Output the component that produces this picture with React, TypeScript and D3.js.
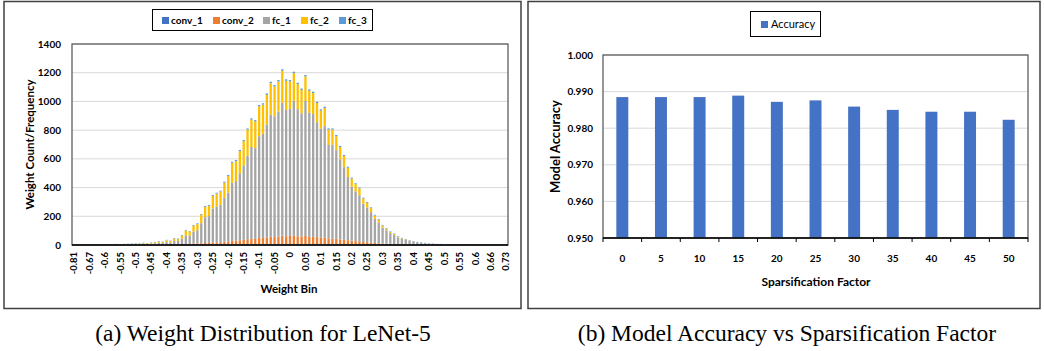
import * as d3 from "d3";

// ---- (a) weight histogram ----
const BIN_LABELS = [
  "-0.81", "-0.78", "-0.74", "-0.70", "-0.67", "-0.65", "-0.63", "-0.61", "-0.6",
  "-0.59", "-0.58", "-0.56", "-0.55", "-0.54", "-0.53", "-0.51", "-0.5",
  "-0.49", "-0.48", "-0.46", "-0.45", "-0.44", "-0.43", "-0.41", "-0.4",
  "-0.39", "-0.38", "-0.36", "-0.35", "-0.34", "-0.33", "-0.31", "-0.3",
  "-0.29", "-0.28", "-0.26", "-0.25", "-0.24", "-0.23", "-0.21", "-0.2",
  "-0.19", "-0.18", "-0.16", "-0.15", "-0.14", "-0.13", "-0.11", "-0.1",
  "-0.09", "-0.08", "-0.06", "-0.05", "-0.04", "-0.03", "-0.01", "0",
  "0.01", "0.03", "0.04", "0.05", "0.06", "0.08", "0.09", "0.1",
  "0.11", "0.13", "0.14", "0.15", "0.16", "0.18", "0.19", "0.2",
  "0.21", "0.23", "0.24", "0.25", "0.26", "0.28", "0.29", "0.3",
  "0.31", "0.33", "0.34", "0.35", "0.36", "0.38", "0.39", "0.4",
  "0.41", "0.43", "0.44", "0.45", "0.46", "0.48", "0.49", "0.5",
  "0.51", "0.53", "0.54", "0.55", "0.56", "0.58", "0.59", "0.6",
  "0.61", "0.63", "0.64", "0.66", "0.68", "0.69", "0.71", "0.73",
];

const CONV_1 = [
  2, 2, 2, 2, 2, 1, 2, 2, 2, 2,
  2, 2, 2, 2, 2, 2, 2, 2, 2, 2,
  2, 2, 2, 2, 2, 2, 2, 2, 2, 2,
  2, 2, 2, 2, 2, 2, 3, 3, 3, 3,
  3, 3, 3, 3, 3, 3, 3, 3, 3, 3,
  3, 3, 3, 3, 3, 3, 3, 3, 3, 3,
  3, 3, 3, 3, 3, 3, 3, 3, 3, 3,
  3, 3, 3, 3, 3, 3, 3, 3, 3, 2,
  2, 2, 2, 2, 2, 2, 2, 2, 2, 2,
  2, 2, 2, 2, 2, 2, 2, 2, 2, 2,
  2, 2, 2, 2, 2, 2, 2, 2, 2, 2,
  2, 2, 2,
];
const CONV_2 = [
  0, 0, 0, 0, 0, 0, 0, 0, 0, 0,
  0, 0, 0, 0, 0, 0, 1, 0, 1, 1,
  1, 1, 2, 1, 2, 2, 3, 3, 4, 5,
  5, 7, 8, 10, 12, 13, 15, 16, 17, 20,
  22, 25, 27, 30, 33, 37, 40, 40, 45, 47,
  50, 55, 52, 56, 62, 58, 60, 62, 58, 55,
  60, 55, 54, 52, 48, 50, 44, 42, 40, 36,
  34, 30, 27, 24, 22, 18, 16, 14, 12, 10,
  8, 7, 6, 5, 4, 3, 3, 2, 2, 1,
  1, 1, 1, 0, 0, 0, 0, 0, 0, 0,
  0, 0, 0, 0, 0, 0, 0, 0, 0, 0,
  0, 0, 0,
];
const FC_1 = [
  0, 0, 1, 0, 1, 1, 1, 1, 1, 2,
  1, 2, 2, 2, 3, 3, 4, 4, 6, 5,
  7, 9, 12, 11, 17, 14, 24, 23, 38, 60,
  58, 84, 93, 140, 180, 186, 236, 248, 260, 305,
  340, 405, 415, 467, 518, 582, 640, 632, 710, 724,
  786, 850, 842, 870, 925, 880, 885, 940, 885, 860,
  940, 865, 855, 800, 760, 775, 650, 655, 618, 558,
  505, 440, 377, 346, 322, 266, 243, 212, 168, 145,
  112, 94, 75, 62, 47, 38, 31, 24, 19, 15,
  11, 9, 6, 5, 3, 3, 1, 1, 0, 1,
  1, 0, 1, 1, 0, 1, 0, 1, 0, 0,
  1, 0, 1,
];
const FC_2 = [
  0, 0, 0, 0, 0, 0, 0, 1, 0, 0,
  0, 1, 0, 1, 1, 2, 2, 2, 4, 3,
  5, 7, 9, 7, 12, 10, 14, 13, 22, 33,
  29, 41, 43, 59, 72, 72, 88, 91, 92, 106,
  116, 140, 140, 154, 169, 182, 190, 186, 208, 204,
  207, 219, 207, 210, 224, 203, 191, 192, 174, 162,
  171, 151, 146, 134, 125, 126, 107, 104, 97, 85,
  78, 65, 56, 51, 47, 37, 32, 28, 22, 18,
  14, 11, 8, 7, 5, 4, 3, 2, 2, 1,
  1, 0, 0, 0, 0, 0, 0, 0, 0, 0,
  0, 0, 0, 0, 0, 0, 0, 0, 0, 0,
  0, 0, 0,
];
const FC_3 = [
  4, 3, 3, 3, 3, 3, 3, 3, 3, 3,
  3, 3, 3, 3, 3, 3, 3, 3, 3, 3,
  3, 3, 3, 3, 3, 3, 4, 4, 4, 4,
  4, 5, 5, 5, 6, 6, 6, 6, 6, 7,
  7, 7, 7, 8, 8, 8, 9, 9, 9, 9,
  10, 10, 10, 10, 10, 10, 10, 10, 10, 10,
  10, 10, 10, 9, 9, 9, 8, 8, 8, 8,
  7, 7, 7, 6, 6, 6, 6, 5, 5, 5,
  4, 4, 4, 4, 4, 3, 3, 3, 3, 3,
  3, 3, 3, 3, 3, 3, 3, 3, 3, 3,
  3, 3, 3, 3, 3, 3, 3, 3, 3, 3,
  3, 3, 3,
];

const HIST_SERIES = ["conv_1", "conv_2", "fc_1", "fc_2", "fc_3"];
const HIST_COLORS = ["#4472c4", "#ed7d31", "#a5a5a5", "#ffc000", "#5b9bd5"];
const HIST_Y_TICKS = [0, 200, 400, 600, 800, 1000, 1200, 1400];

// ---- (b) accuracy vs sparsification ----
const SPARSITY = ["0", "5", "10", "15", "20", "25", "30", "35", "40", "45", "50"];
const ACCURACY = [0.9885, 0.9885, 0.9885, 0.9889, 0.9872, 0.9876, 0.9859, 0.985, 0.9845, 0.9845, 0.9823];
const ACC_Y_TICKS = [0.95, 0.96, 0.97, 0.98, 0.99, 1.0];

const FONT = "Lato, 'Open Sans', sans-serif";
const SERIF = "'Liberation Serif', 'DejaVu Serif', serif";

function HistogramPanel() {
  const left = 72, right = 508, top = 44, bottom = 245;
  const x = d3.scaleBand().domain(BIN_LABELS).range([left, right]).paddingInner(0.4).paddingOuter(0.2);
  const y = d3.scaleLinear().domain([0, 1400]).range([bottom, top]);

  const rows = BIN_LABELS.map((b, i) => ({
    bin: b,
    conv_1: CONV_1[i],
    conv_2: CONV_2[i],
    fc_1: FC_1[i],
    fc_2: FC_2[i],
    fc_3: FC_3[i],
  }));
  const stacked = d3.stack<any>().keys(HIST_SERIES)(rows);

  const legendX = [162, 213, 263, 301, 339];

  return (
    <g>
      <rect x={4} y={1.5} width={517} height={307} fill="#fff" stroke="#404040" strokeWidth={1.5} />
      {/* legend */}
      <rect x={152.5} y={9.5} width={220} height={21} fill="#fff" stroke="#000" strokeWidth={1} />
      {HIST_SERIES.map((s, i) => (
        <g key={s}>
          <rect x={legendX[i]} y={17} width={7} height={7} fill={HIST_COLORS[i]} />
          <text x={legendX[i] + 9} y={20.5} dy="0.35em" fontSize={10} fontWeight="bold" fill="#000">
            {s}
          </text>
        </g>
      ))}
      {/* grid */}
      {HIST_Y_TICKS.map((t) => (
        <line key={t} x1={left} x2={right} y1={y(t)} y2={y(t)} stroke="#d9d9d9" strokeWidth={1} />
      ))}
      {/* bars */}
      {stacked.map((layer, si) => (
        <g key={layer.key} fill={HIST_COLORS[si]}>
          {layer.map((d, i) => {
            const h = y(d[0]) - y(d[1]);
            if (h <= 0) return null;
            return <rect key={i} x={x(BIN_LABELS[i])} y={y(d[1])} width={x.bandwidth()} height={h} />;
          })}
        </g>
      ))}
      <rect x={left} y={top} width={right - left} height={bottom - top} fill="none" stroke="#595959" strokeWidth={1.25} />
      <line x1={left} x2={right} y1={bottom} y2={bottom} stroke="#000" strokeWidth={1.5} />
      {/* y ticks */}
      {HIST_Y_TICKS.map((t) => (
        <text key={t} x={61} y={y(t)} dy="0.35em" textAnchor="end" fontSize={10} fontWeight="bold" fill="#000">
          {t}
        </text>
      ))}
      {/* x ticks, every 4th bin */}
      {BIN_LABELS.map((b, i) =>
        i % 4 === 0 ? (
          <text
            key={b}
            transform={`translate(${(x(b) ?? 0) + x.bandwidth() / 2},252) rotate(-90)`}
            dy="0.35em"
            textAnchor="end"
            fontSize={9.5}
            fontWeight="bold"
            fill="#000"
          >
            {b}
          </text>
        ) : null
      )}
      <text
        transform={`translate(30,${(top + bottom) / 2}) rotate(-90)`}
        textAnchor="middle"
        dy="0.35em"
        fontSize={11.5}
        fontWeight="bold"
        fill="#000"
      >
        Weight Count/Frequency
      </text>
      <text x={289} y={289} dy="0.35em" textAnchor="middle" fontSize={11.5} fontWeight="bold" fill="#000">
        Weight Bin
      </text>
    </g>
  );
}

function AccuracyPanel() {
  const left = 603, right = 1028, top = 55, bottom = 238;
  const x = d3.scaleBand().domain(SPARSITY).range([left, right]).paddingInner(0.69).paddingOuter(0.345);
  const y = d3.scaleLinear().domain([0.95, 1.0]).range([bottom, top]);
  const step = x.step();

  return (
    <g>
      <rect x={528} y={1.5} width={512} height={307} fill="#fff" stroke="#404040" strokeWidth={1.5} />
      <rect x={750.5} y={11.5} width={70} height={25} fill="#fff" stroke="#000" strokeWidth={1} />
      <rect x={761} y={21} width={7} height={7} fill="#4472c4" />
      <text x={771} y={24.5} dy="0.35em" fontSize={11} fill="#000">
        Accuracy
      </text>
      {ACC_Y_TICKS.map((t) => (
        <line key={t} x1={left} x2={right} y1={y(t)} y2={y(t)} stroke="#d9d9d9" strokeWidth={1} />
      ))}
      {ACCURACY.map((v, i) => (
        <rect
          key={SPARSITY[i]}
          x={x(SPARSITY[i])}
          y={y(v)}
          width={x.bandwidth()}
          height={bottom - y(v)}
          fill="#4472c4"
        />
      ))}
      <rect x={left} y={top} width={right - left} height={bottom - top} fill="none" stroke="#595959" strokeWidth={1.25} />
      <line x1={left} x2={right} y1={bottom} y2={bottom} stroke="#000" strokeWidth={1.5} />
      {d3.range(SPARSITY.length + 1).map((i) => (
        <line key={i} x1={left + i * step} x2={left + i * step} y1={bottom} y2={bottom + 4} stroke="#000" strokeWidth={1} />
      ))}
      {ACC_Y_TICKS.map((t) => (
        <text key={t} x={593} y={y(t)} dy="0.35em" textAnchor="end" fontSize={10} fontWeight="bold" fill="#000">
          {t.toFixed(3)}
        </text>
      ))}
      {SPARSITY.map((s) => (
        <text
          key={s}
          x={(x(s) ?? 0) + x.bandwidth() / 2}
          y={258}
          dy="0.35em"
          textAnchor="middle"
          fontSize={10}
          fontWeight="bold"
          fill="#000"
        >
          {s}
        </text>
      ))}
      <text
        transform={`translate(555,${(top + bottom) / 2}) rotate(-90)`}
        textAnchor="middle"
        dy="0.35em"
        fontSize={13}
        fontWeight="bold"
        fill="#000"
      >
        Model Accuracy
      </text>
      <text x={816} y={282} dy="0.35em" textAnchor="middle" fontSize={12} fontWeight="bold" fill="#000">
        Sparsification Factor
      </text>
    </g>
  );
}

export default function App() {
  return (
    <svg
      width={1044}
      height={351}
      style={{ position: "absolute", left: 0, top: 0, background: "#fff" }}
      fontFamily={FONT}
    >
      <HistogramPanel />
      <AccuracyPanel />
      <text x={263} y={333} dy="0.35em" textAnchor="middle" fontSize={23.5} fontFamily={SERIF} fill="#000">
        (a) Weight Distribution for LeNet-5
      </text>
      <text x={787} y={333} dy="0.35em" textAnchor="middle" fontSize={23.5} fontFamily={SERIF} fill="#000">
        (b) Model Accuracy vs Sparsification Factor
      </text>
    </svg>
  );
}
